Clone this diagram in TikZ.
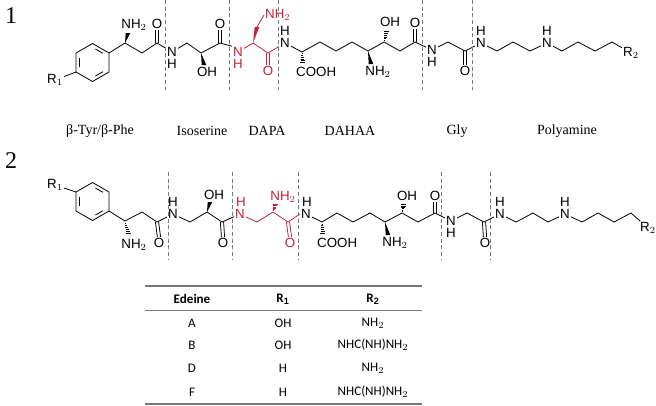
\documentclass[tikz,border=0pt]{standalone}
\usepackage{fontspec}
\setmainfont{Liberation Sans}
\newfontfamily\lserif{Liberation Serif}
\newfontfamily\tabf{Carlito}
\usetikzlibrary{calc}
\definecolor{dred}{RGB}{196,32,60}
\definecolor{dgray}{RGB}{120,120,120}
\newcommand\dbl[3]{\draw[#3] ($(#1)+(-1.6,0)$) -- ($(#2)+(-1.6,0)$); \draw[#3] ($(#1)+(1.6,0)$) -- ($(#2)+(1.6,0)$);}
\newcommand\wdg[3]{\fill[#3] (#1) -- ($(#2)+(-2.3,0)$) -- ($(#2)+(2.3,0)$) -- cycle;}
\newcommand\hsh[3]{\foreach \t in {1,...,6}{\draw[line width=0.5pt,#3] ($(#1)!{\t/7}!(#2)+({-0.42*\t},0)$) -- ($(#1)!{\t/7}!(#2)+({0.42*\t},0)$);}}
\newcommand\ring[3]{% name, cx, cy
  \coordinate (#1c) at (#2,#3);
  \coordinate (#11) at ({#2+16.5},{#3-9.5});
  \coordinate (#12) at ({#2},{#3-19});
  \coordinate (#13) at ({#2-16.5},{#3-9.5});
  \coordinate (#14) at ({#2-16.5},{#3+9.5});
  \coordinate (#15) at ({#2},{#3+19});
  \coordinate (#16) at ({#2+16.5},{#3+9.5});
  \draw (#11)--(#12)--(#13)--(#14)--(#15)--(#16)--cycle;
  \draw[shorten <=2.5,shorten >=2.5] ($(#1c)!0.8!(#11)$)--($(#1c)!0.8!(#12)$);
  \draw[shorten <=2.5,shorten >=2.5] ($(#1c)!0.8!(#13)$)--($(#1c)!0.8!(#14)$);
  \draw[shorten <=2.5,shorten >=2.5] ($(#1c)!0.8!(#15)$)--($(#1c)!0.8!(#16)$);}
\begin{document}
\begin{tikzpicture}[x=0.75pt,y=-0.75pt,line width=0.6pt,
  atm/.style={inner sep=0.6pt,font=\fontsize{10}{11}\selectfont},
  hat/.style={inner sep=0pt,font=\fontsize{10}{11}\selectfont},
  rt/.style={atm,text=dred},
  lab/.style={font=\lserif\fontsize{10.5}{12}\selectfont},
  sep/.style={dgray,dash pattern=on 3pt off 2pt,line width=0.6pt},
  tb/.style={font=\tabf\fontsize{9.8}{11}\selectfont}]
\useasboundingbox (0,0) rectangle (656,405);
% ---------- numbers
\node[font=\lserif\fontsize{18}{19}\selectfont] (n1) at (11,16) {1};
\node[font=\lserif\fontsize{18}{19}\selectfont] (n2) at (11,161) {2};
% ================= structure 1
\ring{r}{92.5}{62.5}
\node[atm] (R1a) at (55,80) {R$_1$};
\draw (R1a) -- (r4);
\coordinate (b1) at (125,43); \coordinate (b2) at (142,53); \coordinate (b3) at (157,43);
\node[atm] (O1) at (157,24) {O};
\node[atm] (N1) at (172,52) {N}; \node[hat] (H1) at (172,64) {H};
\coordinate (b5) at (187,43); \coordinate (b6) at (201,53);
\node[atm] (OH1) at (207,72) {OH}; \coordinate (w6) at (204,65);
\coordinate (b7) at (220,43); \node[atm] (O2) at (220,24) {O};
\node[rt] (N2) at (238,52) {N}; \node[hat,text=dred] (H2) at (238,64) {H};
\coordinate (b9) at (253,43); \coordinate (b9a) at (257,27);
\node[rt,anchor=west] (NH2r) at (264,15) {NH$_2$};
\coordinate (b10) at (268,53); \node[rt] (O3) at (268,71) {O};
\node[atm] (N3) at (285,43) {N}; \node[hat] (H3) at (285,31) {H};
\coordinate (b12) at (302,52); \coordinate (h12) at (303,64);
\node[atm,anchor=west] (COOH1) at (295,72) {COOH};
\coordinate (b13) at (320,42); \coordinate (b14) at (336,51); \coordinate (b15) at (352,42);
\coordinate (b16) at (368,51); \coordinate (w16) at (371,64);
\node[atm] (NH2b) at (378,72) {NH$_2$};
\coordinate (b17) at (384,42); \coordinate (h17) at (387,30);
\node[atm] (OH2) at (390,22) {OH};
\coordinate (b18) at (400,51); \coordinate (b19) at (415,42); \node[atm] (O4) at (415,23) {O};
\node[atm] (N4) at (432,50) {N}; \node[hat] (H4) at (432,62) {H};
\coordinate (b21) at (448,42); \coordinate (b22) at (465,51); \node[atm] (O5) at (465,71) {O};
\node[atm] (N5) at (481,43) {N}; \node[hat] (H5) at (481,31) {H};
\coordinate (b24) at (497,51); \coordinate (b25) at (513,42); \coordinate (b26) at (530,51);
\node[atm] (N6) at (547,43) {N}; \node[hat] (H6) at (547,31) {H};
\coordinate (b28) at (562,51); \coordinate (b29) at (578,42); \coordinate (b30) at (595,51); \coordinate (b31) at (612,42);
\node[atm] (R2a) at (631,53) {R$_2$};
\node[atm] (NH2a) at (134,25) {NH$_2$}; \coordinate (w1) at (128,33);
\draw (r1)--(b1)--(b2)--(b3)--(N1)--(b5)--(b6)--(b7);
\draw (b7)--(N2.north west);
\draw[dred] (N2)--(b9)--(b10)--(N3);
\draw (N3)--(b12)--(b13)--(b14)--(b15)--(b16)--(b17)--(b18)--(b19)--(N4)--(b21)--(b22)--(N5)--(b24)--(b25)--(b26)--(N6)--(b28)--(b29)--(b30)--(b31)--(R2a);
\wdg{b1}{w1}{black}
\wdg{b6}{w6}{black}
\fill[dred] (b9) -- ($(b9a)+(-2.3,0)$) -- ($(b9a)+(2.3,0)$) -- cycle;
\draw[dred] (b9a) -- (NH2r.west);
\hsh{b12}{h12}{black}
\wdg{b16}{w16}{black}
\hsh{b17}{h17}{black}
\dbl{b3}{O1.south}{black}
\dbl{b7}{O2.south}{black}
\dbl{b10}{O3.north}{dred}
\dbl{b19}{O4.south}{black}
\dbl{b22}{O5.north}{black}
\foreach \x in {165,229,278,422,472}{\draw[sep] (\x,0) -- (\x,90);}
\node[lab] (L1) at (100,131) {β-Tyr/β-Phe};
\node[lab] (L2) at (202,131) {Isoserine};
\node[lab] (L3) at (267,131) {DAPA};
\node[lab] (L4) at (350,131) {DAHAA};
\node[lab] (L5) at (457,131) {Gly};
\node[lab] (L6) at (567,131) {Polyamine};
% ================= structure 2
\ring{q}{92.5}{201.5}
\node[atm] (R1b) at (55,185) {R$_1$};
\draw (R1b) -- (q3);
\coordinate (s1) at (125,221); \coordinate (hs1) at (129,235);
\node[atm] (sNH2a) at (134,245) {NH$_2$};
\coordinate (s2) at (142,212); \coordinate (s3) at (157,222); \node[atm] (sO1) at (159,243) {O};
\node[atm] (sN1) at (173,214) {N}; \node[hat] (sH1) at (173,202) {H};
\coordinate (s5) at (190,222); \coordinate (s6) at (207,212); \coordinate (ws6) at (210,202);
\node[atm] (sOH1) at (214,195) {OH};
\coordinate (s7) at (222,222); \node[atm] (sO2) at (223,243) {O};
\node[rt] (sN2) at (240,214) {N}; \node[hat,text=dred] (sH2) at (241,202) {H};
\coordinate (s9) at (257,222); \coordinate (s10) at (273,212); \coordinate (hs10) at (276,203);
\node[rt] (sNH2r) at (283,197) {NH$_2$};
\coordinate (s11) at (288,222); \node[rt] (sO3) at (290,243) {O};
\node[atm] (sN3) at (306,214) {N}; \node[hat] (sH3) at (307,202) {H};
\coordinate (s13) at (322,222); \coordinate (hs13) at (323,235);
\node[atm,anchor=west] (sCOOH) at (316,243) {COOH};
\coordinate (s14) at (337,213); \coordinate (s15) at (353,222); \coordinate (s16) at (370,213);
\coordinate (s17) at (385,222); \coordinate (ws17) at (388,235);
\node[atm] (sNH2b) at (395,243) {NH$_2$};
\coordinate (s18) at (402,213); \coordinate (hs18) at (404,203);
\node[atm] (sOH2) at (407,196) {OH};
\coordinate (s19) at (418,222); \coordinate (s20) at (435,213); \node[atm] (sO4) at (435,196) {O};
\node[atm] (sN4) at (451,221) {N}; \node[hat] (sH4) at (451,233) {H};
\coordinate (s22) at (467,213); \coordinate (s23) at (484,222); \node[atm] (sO5) at (485,243) {O};
\node[atm] (sN5) at (500,214) {N}; \node[hat] (sH5) at (500,202) {H};
\coordinate (s25) at (516,222); \coordinate (s26) at (533,213); \coordinate (s27) at (548,222);
\node[atm] (sN6) at (565,214) {N}; \node[hat] (sH6) at (565,202) {H};
\coordinate (s29) at (582,222); \coordinate (s30) at (598,213); \coordinate (s31) at (614,222); \coordinate (s32) at (631,213);
\node[atm] (R2b) at (648,228) {R$_2$};
\draw (q6)--(s1)--(s2)--(s3)--(sN1)--(s5)--(s6)--(s7)--(sN2);
\draw[dred] (sN2)--(s9)--(s10)--(s11)--(sN3.west);
\draw (sN3)--(s13)--(s14)--(s15)--(s16)--(s17)--(s18)--(s19)--(s20)--(sN4)--(s22)--(s23)--(sN5)--(s25)--(s26)--(s27)--(sN6)--(s29)--(s30)--(s31)--(s32)--(R2b);
\hsh{s1}{hs1}{black}
\wdg{s6}{ws6}{black}
\hsh{s10}{hs10}{dred}
\hsh{s13}{hs13}{black}
\wdg{s17}{ws17}{black}
\hsh{s18}{hs18}{black}
\dbl{s3}{sO1.north}{black}
\dbl{s7}{sO2.north}{black}
\dbl{s11}{sO3.north}{dred}
\dbl{s20}{sO4.south}{black}
\dbl{s23}{sO5.north}{black}
\foreach \x in {168,232,298,441,490}{\draw[sep] (\x,172) -- (\x,260);}
% ================= table
\draw[line width=0.8pt,dgray] (145,286) -- (422,286);
\draw[line width=0.6pt,dgray] (145,310) -- (422,310);
\draw[line width=0.8pt,dgray] (145,404) -- (422,404);
\node[tb] (th1) at (192,299) {\bfseries Edeine};
\node[tb] (th2) at (283,299) {\bfseries R$_\mathbf{1}$};
\node[tb] (th3) at (373,299) {\bfseries R$_\mathbf{2}$};
\foreach \y/\e/\a/\b in {323/A/OH/NH$_2$,345/B/OH/NHC(NH)NH$_2$,368/D/H/NH$_2$,392/F/H/NHC(NH)NH$_2$}{
  \node[tb] at (192,\y) {\e}; \node[tb] at (283,\y) {\a}; \node[tb] at (373,\y) {\b};}
\end{tikzpicture}
\end{document}
